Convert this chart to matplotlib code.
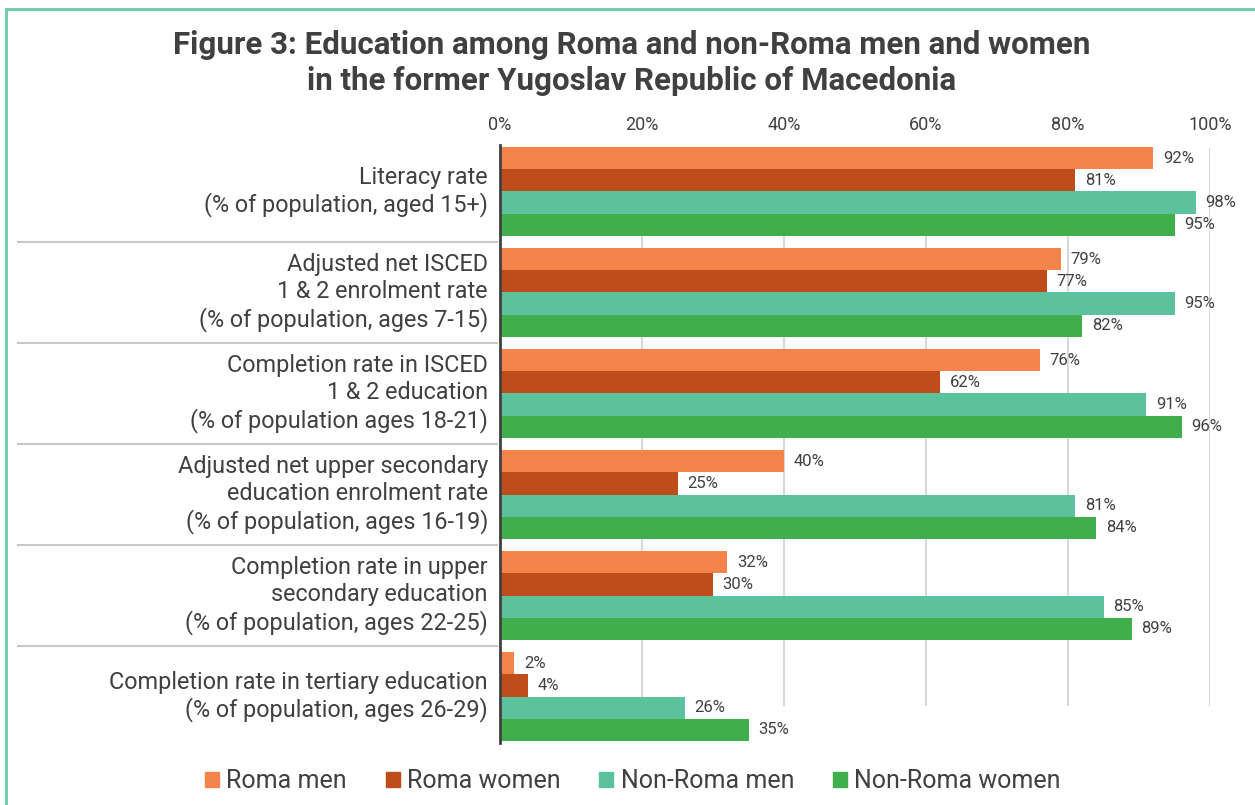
import numpy as np
import matplotlib.pyplot as plt
from matplotlib.patches import Rectangle, Patch
from matplotlib.transforms import blended_transform_factory

plt.rcParams['font.family'] = ['Roboto', 'DejaVu Sans']

# data
categories = [
    "Literacy rate\n(% of population, aged 15+)",
    "Adjusted net ISCED\n1 & 2 enrolment rate\n(% of population, ages 7-15)",
    "Completion rate in ISCED\n1 & 2 education\n(% of population ages 18-21)",
    "Adjusted net upper secondary\neducation enrolment rate\n(% of population, ages 16-19)",
    "Completion rate in upper\nsecondary education\n(% of population, ages 22-25)",
    "Completion rate in tertiary education\n(% of population, ages 26-29)",
]
series = ["Roma men", "Roma women", "Non-Roma men", "Non-Roma women"]
roma_men = [92, 79, 76, 40, 32, 2]
roma_women = [81, 77, 62, 25, 30, 4]
nonroma_men = [98, 95, 91, 81, 85, 26]
nonroma_women = [95, 82, 96, 84, 89, 35]
ticks = [0, 20, 40, 60, 80, 100]

colors = ["#F4844A", "#BF4D1B", "#5BC29D", "#3FAE4B"]
txt = "#404040"

W, H = 1255, 805
fig = plt.figure(figsize=(W / 100, H / 100), dpi=100)
ax = fig.add_axes([500 / W, 1 - 743 / H, 710 / W, 598 / H])

h = 0.22
y = np.arange(len(categories))
for k, vals in enumerate([roma_men, roma_women, nonroma_men, nonroma_women]):
    pos = y + (k - 1.5) * h
    ax.barh(pos, vals, height=h, color=colors[k], zorder=2)
    for p, v in zip(pos, vals):
        ax.annotate(f"{v}%", (v, p), xytext=(7, 0), textcoords="offset points",
                    va="center", ha="left", fontsize=12, color=txt)

ax.set_xlim(0, 100)
ax.set_ylim(5.46, -0.46)

# gridlines (only upper part, like the original)
ax.vlines(ticks, -0.43, 5.09, color="#d9d9d9", lw=1.5, zorder=1)

ax.xaxis.tick_top()
ax.set_xticks(ticks)
ax.set_xticklabels([f"{t}%" for t in ticks], fontsize=13, color=txt)
ax.tick_params(axis="x", length=0, pad=8)
ax.set_yticks([])
for s in ["top", "right", "bottom"]:
    ax.spines[s].set_visible(False)
ax.spines["left"].set_color("#404040")
ax.spines["left"].set_linewidth(2)

tr = blended_transform_factory(ax.transAxes, ax.transData)
for i, c in enumerate(categories):
    ax.text(-0.017, i, c, transform=tr, ha="right", va="center",
            fontsize=16.8, color=txt, linespacing=1.2)
for i in range(len(categories) - 1):
    ax.plot([-0.679, -0.004], [i + 0.5, i + 0.5], transform=tr,
            color="#c8c8c8", lw=1.5, clip_on=False)

fig.text(632 / W, 1 - 63 / H,
         "Figure 3: Education among Roma and non-Roma men and women\n"
         "in the former Yugoslav Republic of Macedonia",
         ha="center", va="center", fontsize=22.5, fontweight="bold",
         color=txt, linespacing=1.22)

handles = [Patch(color=c) for c in colors]
fig.legend(handles, series, loc="center", bbox_to_anchor=(633 / W, 1 - 781 / H),
           ncol=4, frameon=False, fontsize=18, handlelength=0.55,
           handleheight=0.55, handletextpad=0.3, columnspacing=1.55, labelcolor=txt)

fig.add_artist(Rectangle((6 / W, -0.05), 1.1, 1 - 9 / H + 0.05,
                         transform=fig.transFigure, fill=False,
                         edgecolor="#6CC9A5", lw=2))

fig.savefig("out.png", dpi=100)
